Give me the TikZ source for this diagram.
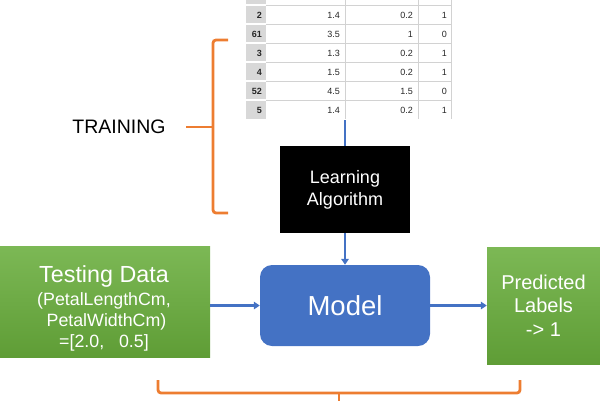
\documentclass[tikz,border=0pt]{standalone}
\usepackage{fontspec}
\setmainfont{Liberation Sans}
\usetikzlibrary{arrows.meta}
\definecolor{oblue}{HTML}{4472C4}
\definecolor{gtop}{HTML}{7CB855}
\definecolor{gbot}{HTML}{5F9D36}
\definecolor{oorange}{HTML}{ED7D31}
\definecolor{tgray}{HTML}{D8D8D8}
\definecolor{tline}{HTML}{D2D2D2}
\begin{document}
\begin{tikzpicture}[x=1pt,y=-1pt,
  greenbox/.style={draw=none, top color=gtop, bottom color=gbot, inner sep=0pt},
  blackbox/.style={fill=black, draw=none, inner sep=0pt, minimum width=130pt, minimum height=87pt,
     text=white, align=center, font=\fontsize{18}{22}\selectfont},
  modelbox/.style={fill=oblue, draw=none, rounded corners=12pt, inner sep=0pt, minimum width=170pt,
     minimum height=81pt, text=white, font=\fontsize{27.5}{30}\selectfont},
  whitetext/.style={text=white, align=center, inner sep=0pt},
  arr/.style={draw=oblue, line width=2.5pt, -{Triangle[length=6pt,width=7.5pt]}},
  plainline/.style={draw=oblue, line width=2.5pt},
  brace/.style={draw=oorange, line width=2.8pt, rounded corners=3pt},
  tcell/.style={inner sep=0pt, anchor=east, text height=6.5pt, text depth=0pt, font=\fontsize{9}{10}\selectfont, text=black!85},
  tidx/.style={tcell, font=\fontsize{9}{10}\selectfont\bfseries}
]
\useasboundingbox (0,0) rectangle (600,400);

% ---- table ----
\fill[tgray] (246,0) rectangle (266,119);
\foreach \y in {5,24,43,62,81,100}{
  \draw[white, line width=1.2pt] (246,\y) -- (266,\y);
  \draw[tline, line width=0.8pt] (266,\y) -- (451,\y);
}
\foreach \x in {345,418,451}{
  \draw[tline, line width=0.8pt] (\x,0) -- (\x,119);
}
\foreach \y/\i/\a/\b/\c in {15/2/1.4/0.2/1, 34/61/3.5/1/0, 53/3/1.3/0.2/1, 72/4/1.5/0.2/1, 91/52/4.5/1.5/0, 110/5/1.4/0.2/1}{
  \node[tidx] (i\y) at (262,\y) {\i};
  \node[tcell] (a\y) at (340,\y) {\a};
  \node[tcell] (b\y) at (413,\y) {\b};
  \node[tcell] (c\y) at (447,\y) {\c};
}
\coordinate (tbl) at (345,120);

% ---- boxes ----
\node[blackbox] (learn) at (345,189.5) {Learning\\Algorithm};
\node[modelbox] (model) at (345,305.5) {Model};
\node[greenbox, minimum width=210pt, minimum height=111pt] (test) at (105,301.5) {};
\node[whitetext, font=\fontsize{17.8}{21}\selectfont] (testtxt) at (104,308)
  {{\fontsize{23.3}{26}\selectfont Testing Data}\\[2pt]
   (PetalLengthCm,\\
   \ PetalWidthCm)\\
   =[2.0,\ \ \ 0.5]};
\node[greenbox, minimum width=113pt, minimum height=117pt] (pred) at (543.5,305.5) {};
\node[whitetext, font=\fontsize{20}{23.5}\selectfont] (predtxt) at (543.5,305.5) {Predicted\\Labels\\-> 1};

% ---- connectors ----
\draw[plainline] (tbl) -- (learn.north);
\draw[arr] (learn.south) -- (model.north);
\draw[arr] (model.west -| test.east) -- (model.west);
\draw[arr] (model.east) -- (model.east -| pred.west);

% ---- training brace ----
\node[font=\fontsize{19.5}{22}\selectfont] (train) at (119,127) {TRAINING};
\coordinate (ltip) at (186,127);
\coordinate (ltop) at (228,40);
\coordinate (lbot) at (228,213);
\draw[brace] (ltop) -- (213,40) -- (213,213) -- (lbot);
\draw[brace] (ltip) -- (213,127);

% ---- bottom brace ----
\coordinate (bl) at (158,380);
\coordinate (br) at (520,380);
\coordinate (btip) at (339,403);
\draw[brace] (bl) -- (158,393) -- (520,393) -- (br);
\draw[brace] (btip) -- (339,393);
\end{tikzpicture}
\end{document}
